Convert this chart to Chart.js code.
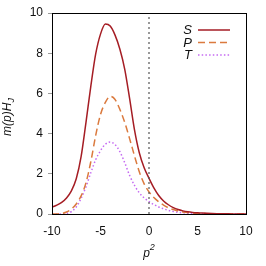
<!DOCTYPE html>
<html>
<head>
<meta charset="utf-8">
<script src="https://cdn.jsdelivr.net/npm/chart.js@4.4.1/dist/chart.umd.min.js"></script>
<style>
html,body{margin:0;padding:0;background:#fff;}
#wrap{width:266px;height:266px;position:relative;}
</style>
</head>
<body>
<div id="wrap"><canvas id="c" width="266" height="266"></canvas></div>
<script>
const xValues = [-10,-9.5,-9,-8.5,-8,-7.5,-7,-6.5,-6,-5.5,-5,-4.5,-4,-3.5,-3,-2.5,-2,-1.5,-1,-0.5,0,0.5,1,1.5,2,2.5,3,3.5,4,4.5,5,5.5,6,6.5,7,7.5,8,8.5,9,9.5,10];
const sValues = [0.34,0.44,0.58,0.8,1.15,1.75,2.85,4.55,6.35,7.95,8.95,9.45,9.35,8.9,8.2,7.2,5.75,4.2,3.05,2.3,1.78,1.3,0.92,0.65,0.46,0.32,0.22,0.155,0.11,0.08,0.06,0.045,0.033,0.024,0.017,0.012,0.009,0.006,0.004,0.003,0.002];
const pValues = [0.0,0.005,0.03,0.1,0.25,0.5,0.9,1.55,2.6,3.9,4.95,5.55,5.85,5.7,5.2,4.55,3.75,2.9,2.1,1.5,1.1,0.82,0.61,0.44,0.31,0.22,0.15,0.1,0.07,0.05,0.035,0.025,0.018,0.012,0.008,0.006,0.004,0.003,0.002,0.001,0.001];
const tValues = [0.0,0.0,0.005,0.03,0.12,0.35,0.78,1.35,2.05,2.7,3.15,3.47,3.58,3.45,3.1,2.55,1.92,1.43,1.05,0.8,0.62,0.47,0.35,0.26,0.18,0.125,0.085,0.058,0.04,0.028,0.02,0.014,0.01,0.007,0.005,0.003,0.002,0.001,0.001,0.0,0.0];
const seriesNames = ['S','P','T'];
const zeroLineX = [0,0];
const zeroLineY = [0,10];
const xTicks = [-10,-5,0,5,10];
const yTicks = [0,2,4,6,8,10];

const colors = ['#a51d24','#db7a3e','#c56af2'];
const dashes = [[],[7,4],[1.5,2.2]];

function pts(xs, ys){ return xs.map((x,i)=>({x:x,y:ys[i]})); }

const FONT = "'Liberation Sans', Arial, sans-serif";

const framePlugin = {
  id:'frame',
  afterDraw(chart){
    const ctx = chart.ctx, a = chart.chartArea;
    ctx.save();
    ctx.strokeStyle = '#000';
    ctx.lineWidth = 1;
    ctx.strokeRect(Math.round(a.left)+0.5, Math.round(a.top)+0.5, Math.round(a.right-a.left), Math.round(a.bottom-a.top));
    // legend
    const lx0 = 198, lx1 = 230, ys = [30, 42.5, 55];
    ctx.font = 'italic 13px ' + FONT;
    ctx.textAlign = 'right';
    ctx.textBaseline = 'middle';
    seriesNames.forEach((n,i)=>{
      ctx.fillStyle = '#111';
      ctx.fillText(n, 192, ys[i]+0.5);
      ctx.strokeStyle = colors[i];
      ctx.lineWidth = 1.5;
      ctx.setLineDash(dashes[i]);
      ctx.beginPath();
      ctx.moveTo(lx0, ys[i]);
      ctx.lineTo(lx1, ys[i]);
      ctx.stroke();
    });
    ctx.setLineDash([]);
    // y title with subscript
    ctx.fillStyle = '#111';
    ctx.translate(11, 117);
    ctx.rotate(-Math.PI/2);
    const main = 'm(p)H';
    const sub = 'J';
    ctx.font = 'italic 12px ' + FONT;
    const wMain = ctx.measureText(main).width;
    ctx.font = 'italic 9px ' + FONT;
    const wSub = ctx.measureText(sub).width;
    const total = wMain + wSub;
    ctx.textAlign = 'left';
    ctx.textBaseline = 'alphabetic';
    ctx.font = 'italic 12px ' + FONT;
    ctx.fillText(main, -total/2, 0);
    ctx.font = 'italic 9px ' + FONT;
    ctx.fillText(sub, -total/2 + wMain, 3);
    ctx.restore();
    // x title with superscript
    ctx.save();
    ctx.fillStyle = '#111';
    ctx.font = 'italic 12px ' + FONT;
    const xm = 'p', xs = '2';
    const w1 = ctx.measureText(xm).width;
    ctx.font = 'italic 9px ' + FONT;
    const w2 = ctx.measureText(xs).width;
    const cx = chart.scales.x.getPixelForValue(0);
    ctx.textAlign = 'left';
    ctx.textBaseline = 'alphabetic';
    ctx.font = 'italic 12px ' + FONT;
    ctx.fillText(xm, cx - (w1+w2)/2, 257);
    ctx.font = 'italic 9px ' + FONT;
    ctx.fillText(xs, cx - (w1+w2)/2 + w1, 250);
    ctx.restore();
  }
};

new Chart(document.getElementById('c'), {
  type:'line',
  data:{
    datasets:[
      {label:'zero', data:pts(zeroLineX, zeroLineY), borderColor:'#555', borderWidth:1.2, borderDash:[2,3], pointRadius:0, fill:false, tension:0},
      {label:seriesNames[0], data:pts(xValues,sValues), borderColor:colors[0], borderWidth:1.5, pointRadius:0, fill:false, cubicInterpolationMode:'monotone'},
      {label:seriesNames[1], data:pts(xValues,pValues), borderColor:colors[1], borderWidth:1.5, borderDash:dashes[1], pointRadius:0, fill:false, cubicInterpolationMode:'monotone'},
      {label:seriesNames[2], data:pts(xValues,tValues), borderColor:colors[2], borderWidth:1.5, borderDash:dashes[2], pointRadius:0, fill:false, cubicInterpolationMode:'monotone'}
    ]
  },
  options:{
    responsive:false,
    animation:false,
    events:[],
    layout:{padding:{left:0,right:20,top:13,bottom:0}},
    plugins:{legend:{display:false},tooltip:{enabled:false}},
    scales:{
      x:{
        type:'linear', min:-10, max:10,
        afterBuildTicks(s){ s.ticks = xTicks.map(v=>({value:v})); },
        afterFit(s){ s.height = 52; },
        grid:{display:false, drawOnChartArea:false, drawTicks:false},
        border:{display:true, color:'#000', width:1},
        ticks:{color:'#111', font:{family:FONT,size:12}, padding:10, maxRotation:0}
      },
      y:{
        type:'linear', min:0, max:10,
        afterBuildTicks(s){ s.ticks = yTicks.map(v=>({value:v})); },
        afterFit(s){ s.width = 52; },
        grid:{display:true, drawOnChartArea:false, drawTicks:true, tickLength:4, color:'#999'},
        border:{display:true, color:'#000', width:1},
        ticks:{color:'#111', font:{family:FONT,size:12}, padding:5}
      }
    }
  },
  plugins:[framePlugin]
});
</script>
</body>
</html>
